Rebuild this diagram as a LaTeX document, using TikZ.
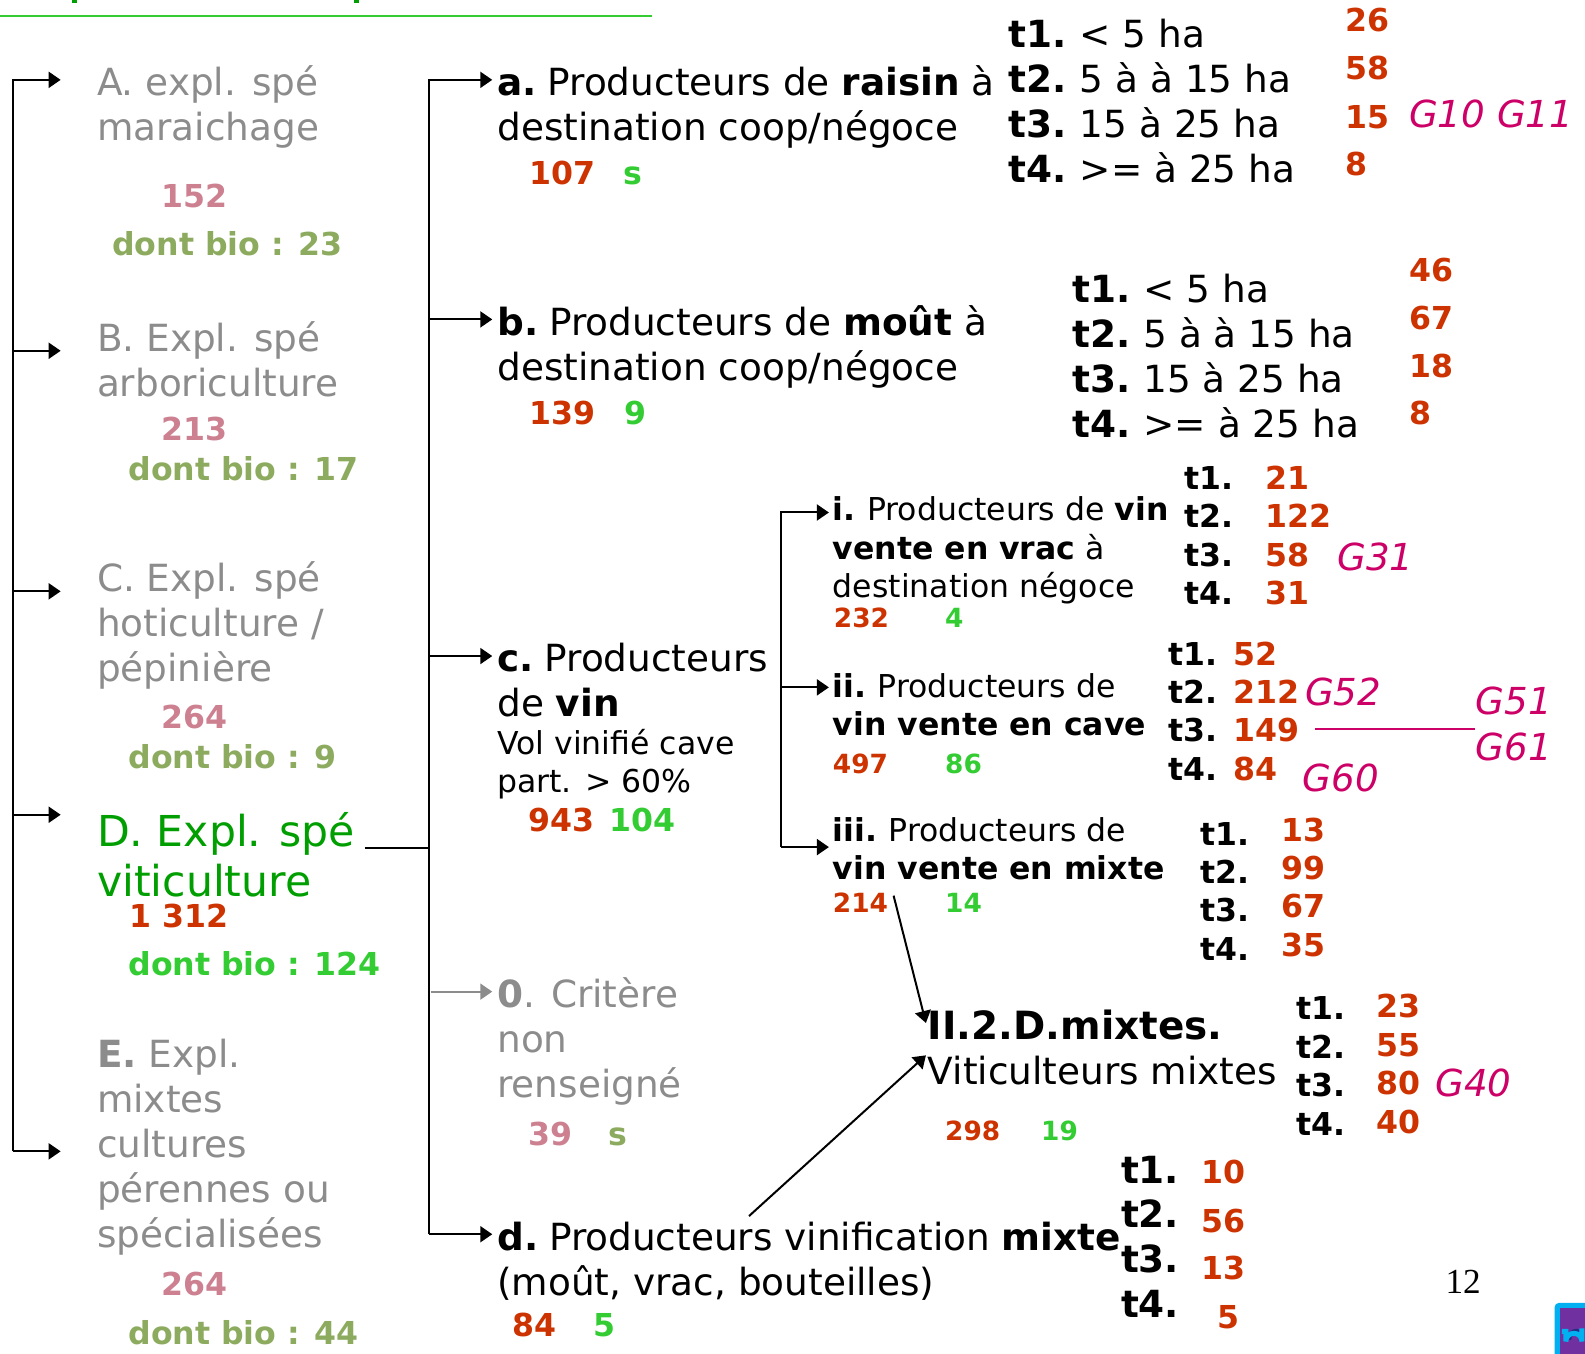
\documentclass[tikz,border=0pt]{standalone}
\usepackage{fontspec}
\setmainfont{DejaVu Sans}
\newfontfamily\timesf{Liberation Serif}
\usetikzlibrary{arrows.meta}
\definecolor{greyt}{HTML}{8C8C8C}
\definecolor{pinkn}{HTML}{CC8090}
\definecolor{olive}{HTML}{8CAB5F}
\definecolor{redn}{HTML}{CC3300}
\definecolor{greenn}{HTML}{33CC33}
\definecolor{greend}{HTML}{009E00}
\definecolor{magen}{HTML}{CC0066}
\definecolor{logoc}{HTML}{00B0F0}
\definecolor{logop}{HTML}{7030A0}
\definecolor{logod}{HTML}{232D82}
\newcommand{\gapT}{\hspace{-1.5pt}}
\newcommand{\gapL}{\hspace{-2.5pt}}
\newcommand{\gapS}{\hspace{-1pt}}
\tikzset{
  txt/.style={anchor=base west,inner sep=0pt,outer sep=0pt,align=left},
  big/.style={txt,font=\fontsize{18.7pt}{22.5pt}\selectfont},
  mid/.style={txt,font=\fontsize{15.75pt}{19.2pt}\selectfont},
  midb/.style={txt,font=\fontsize{15.75pt}{19.2pt}\selectfont\bfseries},
  bigb/.style={txt,font=\fontsize{18.7pt}{22.3pt}\selectfont\bfseries},
  head/.style={txt,font=\fontsize{21.3pt}{25.3pt}\selectfont},
  grey/.style={big,text=greyt},
  num/.style={txt,font=\fontsize{15.8pt}{19pt}\selectfont\bfseries,text=#1},
  nums/.style={txt,font=\fontsize{13.2pt}{16pt}\selectfont\bfseries,text=#1},
  gname/.style={txt,font=\fontsize{18.6pt}{22pt}\selectfont\itshape,text=magen},
  bus/.style={line width=1pt,black},
  conn/.style={bus,-{Triangle[length=6pt,width=8pt]}},
}
\begin{document}
\begin{tikzpicture}[x=0.5054pt,y=-0.5054pt]
\useasboundingbox (0,0) rectangle (1568,1339);
% title remnants and rule
\fill[greend] (71,0) rectangle (76,3);
\fill[greend] (350,0) rectangle (355,3);
\draw[line width=0.85pt,greenn] (0,16) -- (645,16);

% left column
\node[grey] (A) at (96,139) {A. expl. spé\\maraichage};
\node[num=pinkn] (An) at (160,205) {152};
\node[num=olive] (Ab) at (111,253) {dont bio : 23};
\node[grey] (B) at (96,392) {B. Expl. spé\\arboriculture};
\node[num=pinkn] (Bn) at (160,436) {213};
\node[num=olive] (Bb) at (127,475) {dont bio : 17};
\node[grey] (C) at (96,674) {C. Expl. spé\\hoticulture /\\pépinière};
\node[num=pinkn] (Cn) at (160,721) {264};
\node[num=olive] (Cb) at (127,760) {dont bio : 9};
\node[head,text=greend] (D) at (96,887) {D. Expl. spé\\viticulture};
\node[num=redn] (Dn) at (128,918) {1 312};
\node[num=greenn] (Db) at (127,965) {dont bio : 124};
\node[grey] (E) at (96,1234) {\textbf{E.} Expl.\\mixtes\\cultures\\pérennes ou\\spécialisées};
\node[num=pinkn] (En) at (160,1282) {264};
\node[num=olive] (Eb) at (127,1330) {dont bio : 44};

% middle column
\node[big] (a) at (492,139) {\textbf{a.}\gapL{} Producteurs de \textbf{raisin} à\\destination coop/négoce};
\node[num=redn] (an) at (524,183) {107};
\node[num=greenn] (as) at (617,183) {s};
\node[big] (b) at (492,376) {\textbf{b.}\gapL{} Producteurs de \textbf{moût} à\\destination coop/négoce};
\node[num=redn] (bn) at (524,420) {139};
\node[num=greenn] (bs) at (618,420) {9};
\node[big] (c) at (492,709) {\textbf{c.}\gapL{} Producteurs\\de \textbf{vin}};
\node[mid] (c2) at (492,784) {Vol vinifié cave\\part. > 60\%};
\node[num=redn] (cn) at (523,823) {943};
\node[num=greenn] (cs) at (603,823) {104};
\node[grey] (z) at (492,1086) {\textbf{0}. Critère\\non\\renseigné};
\node[num=pinkn] (zn) at (523,1133) {39};
\node[num=olive] (zs) at (602,1133) {s};
\node[big] (d) at (492,1282) {\textbf{d.}\gapL{} Producteurs vinification \textbf{mixte}\\(moût, vrac, bouteilles)};
\node[num=redn] (dn) at (507,1322) {84};
\node[num=greenn] (ds) at (587,1322) {5};

% a list
\node[big] (la) at (998,181) {\textbf{t1.}\gapT{} < 5 ha\\\textbf{t2.}\gapT{} 5 à à 15 ha\\\textbf{t3.}\gapT{} 15 à 25 ha\\\textbf{t4.}\gapT{} >= à 25 ha};
\node[num=redn] (la1) at (1331,31) {26};
\node[num=redn] (la2) at (1331,79) {58};
\node[num=redn] (la3) at (1331,127) {15};
\node[num=redn] (la4) at (1331,174) {8};
\node[gname] (G10) at (1394,126) {G10 G11};
% b list
\node[big] (lb) at (1061,433) {\textbf{t1.}\gapT{} < 5 ha\\\textbf{t2.}\gapT{} 5 à à 15 ha\\\textbf{t3.}\gapT{} 15 à 25 ha\\\textbf{t4.}\gapT{} >= à 25 ha};
\node[num=redn] (lb1) at (1394,278) {46};
\node[num=redn] (lb2) at (1394,326) {67};
\node[num=redn] (lb3) at (1394,373) {18};
\node[num=redn] (lb4) at (1394,420) {8};

% i
\node[mid] (i) at (824,591) {\textbf{i.}\gapS{} Producteurs de \textbf{vin}\\\textbf{vente en vrac} à\\destination négoce};
\node[nums=redn] (in) at (825,621) {232};
\node[nums=greenn] (is) at (935,621) {4};
\node[midb] (li) at (1172,598) {t1.\\t2.\\t3.\\t4.};
\node[num=redn] (li1) at (1252,484) {21};
\node[num=redn] (li2) at (1252,522) {122};
\node[num=redn] (li3) at (1252,560) {58};
\node[num=redn] (li4) at (1252,598) {31};
\node[gname] (G31) at (1323,564) {G31};
% ii
\node[mid] (ii) at (824,728) {\textbf{ii.}\gapS{} Producteurs de\\\textbf{vin vente en cave}};
\node[nums=redn] (iin) at (824,765) {497};
\node[nums=greenn] (iis) at (935,765) {86};
\node[midb] (lii) at (1156,772) {t1.\\t2.\\t3.\\t4.};
\node[num=redn] (lii1) at (1220,658) {52};
\node[num=redn] (lii2) at (1220,696) {212};
\node[num=redn] (lii3) at (1220,734) {149};
\node[num=redn] (lii4) at (1220,772) {84};
\node[gname] (G52) at (1291,698) {G52};
\node[gname] (G51) at (1460,707) {G51};
\node[gname] (G61) at (1460,752) {G61};
\node[gname] (G60) at (1289,783) {G60};
% iii
\node[mid] (iii) at (824,870) {\textbf{iii.}\gapS{} Producteurs de\\\textbf{vin vente en mixte}};
\node[nums=redn] (iiin) at (824,903) {214};
\node[nums=greenn] (iiis) at (935,903) {14};
\node[midb] (liii) at (1188,950) {t1.\\t2.\\t3.\\t4.};
\node[num=redn] (liii1) at (1268,832) {13};
\node[num=redn] (liii2) at (1268,870) {99};
\node[num=redn] (liii3) at (1268,908) {67};
\node[num=redn] (liii4) at (1268,946) {35};
% mixtes
\node[big] (m) at (918,1073) {{\fontsize{19.45pt}{22.5pt}\selectfont\textbf{II.2.D.mixtes.}}\\Viticulteurs mixtes};
\node[nums=redn] (mn) at (935,1128) {298};
\node[nums=greenn] (ms) at (1030,1128) {19};
\node[midb] (lm) at (1283,1123) {t1.\\t2.\\t3.\\t4.};
\node[num=redn] (lm1) at (1362,1007) {23};
\node[num=redn] (lm2) at (1362,1045) {55};
\node[num=redn] (lm3) at (1362,1083) {80};
\node[num=redn] (lm4) at (1362,1121) {40};
\node[gname] (G40) at (1420,1085) {G40};
% d list
\node[bigb] (ld) at (1109,1303) {t1.\\t2.\\t3.\\t4.};
\node[num=redn] (ld1) at (1189,1171) {10};
\node[num=redn] (ld2) at (1189,1219) {56};
\node[num=redn] (ld3) at (1189,1266) {13};
\node[num=redn] (ld4) at (1204,1314) {5};
% page number
\node[txt,font=\fontsize{17.6pt}{20pt}\timesf\selectfont] (page) at (1430,1280) {12};

% connector points
\coordinate (L0) at (13,79);
\coordinate (tA) at (60,79);
\coordinate (tB) at (60,347);
\coordinate (tC) at (60,585);
\coordinate (tD) at (60,806);
\coordinate (tE) at (60,1139);
\coordinate (M0) at (424,79);
\coordinate (Dout) at (361,839);
\coordinate (Mj) at (424,839);
\coordinate (ta) at (487,79);
\coordinate (tb) at (487,316);
\coordinate (tc) at (487,649);
\coordinate (zs0) at (426,981);
\coordinate (tz) at (487,981);
\coordinate (td) at (487,1221);
\coordinate (V0) at (773,507);
\coordinate (ti) at (820,507);
\coordinate (tii) at (820,680);
\coordinate (tiii) at (820,838);
\coordinate (cj) at (773,680);
\coordinate (s1) at (884,886);
\coordinate (e1) at (916,1012);
\coordinate (s2) at (741,1203);
\coordinate (e2) at (916,1044);
\coordinate (gl) at (1301,721);
\coordinate (gr) at (1459,721);

% left bus
\draw[conn] (L0 |- tE) -- (L0) -- (tA);
\draw[conn] (L0 |- tE) -- (tE);
\draw[conn] (L0 |- tB) -- (tB);
\draw[conn] (L0 |- tC) -- (tC);
\draw[conn] (L0 |- tD) -- (tD);
% middle bus
\draw[bus] (Dout) -- (Mj);
\draw[conn] (M0 |- td) -- (M0) -- (ta);
\draw[conn] (M0 |- tb) -- (tb);
\draw[conn] (M0 |- tc) -- (tc);
\draw[conn] (M0 |- td) -- (td);
\draw[conn,greyt] (zs0) -- (tz);
% c bus
\draw[conn] (V0 |- tiii) -- (tiii);
\draw[conn] (V0 |- tiii) -- (V0) -- (ti);
\draw[conn] (cj) -- (tii);
% mixtes
\draw[conn] (s1) -- (e1);
\draw[conn] (s2) -- (e2);
\draw[line width=1pt,magen] (gl) -- (gr);

% logo
\begin{scope}
\clip (1530,1280) rectangle (1568,1339);
\fill[logoc,rounded corners=2pt] (1538,1289) rectangle (1580,1350);
\fill[logop] (1543,1294) rectangle (1580,1350);
\draw[line width=2.5pt,logod,line cap=round] (1552,1321) -- (1552,1325) arc (180:270:8);
\draw[line width=2.5pt,logoc] (1545,1317) -- (1549,1317) -- (1549,1327) arc (180:360:8) -- (1565,1314);
\end{scope}
\end{tikzpicture}
\end{document}
